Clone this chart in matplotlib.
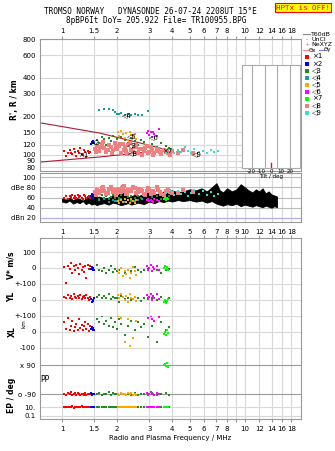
import matplotlib.pyplot as plt
from matplotlib.ticker import FixedLocator, NullLocator, FixedFormatter

# ---- data ----
freq_ticks = [1, 1.5, 2, 3, 4, 5, 6, 7, 8, 9, 10, 12, 14, 16, 18]
freq_labels = ['1', '1.5', '2', '3', '4', '5', '6', '7', '8', '', '10', '12', '14', '16', '18']
freq_labels_mid = ['1', '1.5', '2', '3', '4', '5', '6', '7', '8', '9', '10', '12', '14', '16', '18']
range_ticks = [80, 90, 100, 120, 150, 200, 300, 400, 600, 800]

# echo 1 (red)
red_f = [1.02, 1.05, 1.08, 1.10, 1.12, 1.14, 1.16, 1.18, 1.20, 1.22, 1.24, 1.26, 1.28, 1.30, 1.32, 1.34, 1.36, 1.38, 1.40, 1.42]
red_R = [107, 98, 103, 110, 104, 101, 112, 106, 99, 108, 104, 113, 102, 100, 110, 105, 97, 108, 103, 106]
red_dbe = [60, 62, 58, 63, 61, 64, 60, 62, 59, 65, 61, 63, 60, 58, 64, 62, 59, 61, 63, 60]
red_v = [5, -95, 15, -5, 30, -30, 10, -10, 20, 0, -40, 25, -15, 5, -25, 10, -60, 20, -5, 15]
red_yl = [20, 10, 30, 15, 25, 5, 35, 20, 10, 25, 15, 30, 5, 20, 25, 10, 30, 15, 0, 20]
red_xl = [60, 20, 90, 10, 40, 70, 5, 30, 50, 15, 80, 25, 45, 10, 35, 60, 20, 50, 5, 40]
red_pp = [-88, -95, -85, -92, -80, -98, -90, -86, -94, -83, -91, -97, -87, -89, -93, -84, -96, -90, -88, -92]
red_ep = [8, 12, 9, 11, 10, 14, 7, 10, 12, 9, 11, 8, 13, 10, 9, 12, 10, 11, 8, 10]

# echo 2 (blue)
blue_f = [1.44, 1.46, 1.47, 1.48, 1.49]
blue_R = [122, 126, 124, 128, 125]
blue_dbe = [62, 66, 64, 60, 63]
blue_v = [-5, 5, -15, 0, -10]
blue_yl = [5, -10, 0, -5, 10]
blue_xl = [20, 30, 10, 25, 15]
blue_pp = [-85, -95, -90, -88, -92]
blue_ep = [9, 11, 10, 12, 8]

# echo 3 (green)
green_f = [1.55, 1.6, 1.65, 1.7, 1.75, 1.8, 1.85, 1.9, 1.95, 2.0, 2.05, 2.1, 2.2, 2.3, 2.4, 2.5, 2.6, 2.7, 2.8, 2.95, 3.1, 3.3, 3.5, 3.7, 3.85]
green_R = [130, 125, 138, 132, 120, 135, 128, 140, 126, 133, 122, 137, 130, 124, 135, 128, 120, 131, 126, 118, 122, 115, 125, 118, 113]
green_dbe = [62, 58, 64, 60, 63, 57, 61, 65, 59, 62, 60, 64, 58, 61, 63, 59, 62, 60, 64, 58, 61, 63, 57, 60, 62]
green_v = [20, -10, -20, 0, -30, -15, 10, -25, -5, -20, -15, 0, -30, -10, -20, 5, -15, -25, -10, -5, -20, -15, -30, -10, -5]
green_yl = [20, 30, 10, 25, 15, 35, 5, 20, 10, 15, -10, 25, 5, 15, 0, 20, 10, -5, 15, 5, 10, 0, 20, -5, 10]
green_xl = [80, 60, 100, 50, 70, 40, 90, 30, 60, 20, 80, 50, -20, 40, 70, 10, 60, 30, 50, -30, 40, -60, 60, 10, 30]
green_pp = [-90, -84, -95, -88, -92, -80, -97, -86, -91, -89, -94, -83, -90, -87, -93, -85, -96, -90, -88, -92, -86, -94, -90, -84, -98]
green_ep = [10, 9, 11, 8, 12, 10, 9, 11, 10, 8, 12, 10, 9, 11, 10, 8, 12, 9, 10, 11, 9, 10, 12, 8, 10]

# echo 4 (teal)
teal_f = [1.6, 1.7, 1.8, 1.9, 1.95, 2.0, 2.05, 2.1, 2.2, 2.3, 2.4, 2.5, 2.6, 2.75, 2.95]
teal_R = [225, 228, 230, 222, 215, 210, 208, 212, 206, 207, 205, 208, 206, 205, 220]
teal_dbe = [55, 57, 52, 56, 54, 53, 55, 57, 52, 56, 54, 53, 55, 57, 56]

# echo 5 (orange)
orange_f = [2.02, 2.06, 2.1, 2.15, 2.2, 2.25, 2.3, 2.35, 2.4, 2.45, 2.5, 2.55]
orange_R = [150, 140, 155, 145, 135, 148, 130, 152, 142, 138, 146, 132]
orange_dbe = [54, 50, 56, 52, 58, 51, 55, 49, 57, 53, 50, 55]
orange_v = [-10, -30, 0, -50, -20, -40, -10, -60, -30, 5, -20, -45]
orange_yl = [30, 10, 40, 20, 0, 25, -10, 35, 15, 5, 20, -5]
orange_xl = [100, 130, 90, 150, -60, 120, 80, -90, 110, -40, 140, 70]
orange_pp = [-88, -94, -84, -92, -90, -96, -86, -90, -82, -93, -89, -95]
orange_ep = [10, 12, 9, 11, 10, 8, 12, 10, 9, 11, 10, 12]

# echo 6 (magenta)
mag_f = [2.9, 2.95, 3.0, 3.05, 3.1, 3.15, 3.2, 3.3, 3.4]
mag_R = [148, 155, 142, 150, 138, 152, 145, 140, 158]
mag_dbe = [55, 58, 53, 56, 54, 52, 57, 55, 53]
mag_v = [10, -10, 0, 20, -20, 5, -5, 15, -15]
mag_yl = [30, 10, 20, 40, 0, 25, 15, 35, 5]
mag_xl = [110, 90, 130, 100, 80, 120, 70, 105, 95]
mag_pp = [-85, -95, -90, -80, -92, -88, -96, -84, -90]
mag_ep = [10, 11, 9, 12, 10, 8, 11, 10, 9]

# echo 7 (lime)
lime_f = [3.6, 3.65, 3.7, 3.75, 3.8]
lime_R = [108, 104, 110, 106, 112]
lime_dbe = [58, 60, 56, 59, 57]
lime_v = [0, 10, -5, 5, -10]
lime_yl = [-10, 0, -20, -5, 5]
lime_xl = [-10, 0, -20, 10, -5]
lime_pp = [90, 95, 85, 100, 80]
lime_ep = [10, 9, 11, 10, 12]

# echo 8 (salmon)
salmon_f = [1.52, 1.56, 1.6, 1.65, 1.7, 1.75, 1.8, 1.85, 1.9, 1.95, 2.0, 2.05, 2.1, 2.15, 2.2, 2.25, 2.3, 2.4, 2.5, 2.6, 2.7, 2.8, 2.9, 3.0,
            3.1, 3.2, 3.35, 3.5, 3.7, 3.9, 4.3, 4.6, 5.2,
            1.54, 1.62, 1.68, 1.78, 1.88, 1.98, 2.08, 2.18, 2.28, 2.35, 2.45, 2.55, 2.65, 2.75, 2.85, 2.95, 3.05, 3.15, 3.3, 3.45, 3.6, 3.8, 4.0]
salmon_R = [112, 118, 108, 122, 114, 106, 120, 116, 110, 124, 112, 118, 104, 121, 115, 108, 119, 110, 116, 104, 112, 108, 118, 106,
            110, 104, 108, 102, 106, 100, 104, 110, 104,
            105, 115, 126, 110, 104, 116, 122, 110, 102, 124, 106, 120, 112, 100, 114, 104, 116, 100, 112, 106, 110, 103, 108]
salmon_dbe = [70, 75, 68, 78, 72, 66, 76, 80, 70, 74, 68, 77, 71, 79, 73, 67, 75, 72, 78, 70, 74, 66, 72, 76,
              70, 68, 74, 66, 72, 70, 68, 74, 70,
              64, 72, 80, 68, 76, 64, 70, 82, 66, 74, 80, 68, 76, 72, 64, 78, 66, 72, 80, 70, 64, 76, 68]

# echo 9 (turquoise)
turq_f = [3.7, 3.9, 4.1, 4.3, 4.5, 4.7, 4.9, 5.1, 5.3, 5.6, 5.9, 6.2, 6.5, 6.8, 7.1]
turq_R = [106, 112, 104, 110, 106, 115, 108, 103, 112, 106, 108, 104, 110, 105, 107]
turq_dbe = [68, 74, 64, 72, 66, 70, 62, 68, 74, 66, 72, 64, 70, 62, 66]

# echo label positions
label_text = ['×1', '×2', '◁3', '◁4', '◁5', '◁6', '×7', '◁8', '◁9']
label_f = [1.30, 1.50, 2.40, 2.27, 2.40, 3.20, 3.75, 2.45, 5.5]
label_R = [100, 125, 119, 205, 139, 138, 107, 103, 102]

# range limit lines
limit_f = [0.76, 1.61, 2.67, 3.8]
limit_upper = [178, 148, 124, 109]
limit_lower = [88, 96.5, 104, 109]

# noise band (dBe)
noise_f = [1.0, 1.05, 1.1, 1.15, 1.2, 1.25, 1.3, 1.35, 1.4, 1.45, 1.5, 1.55, 1.6, 1.7, 1.8, 1.9, 2.0, 2.1, 2.2, 2.3, 2.4, 2.5, 2.6, 2.8, 3.0, 3.2,
           3.4, 3.6, 3.8, 4.0, 4.3, 4.6, 5.0, 5.4, 5.8, 6.2, 6.6, 7.0, 7.3, 7.6, 8.0, 8.5, 9.0, 9.5, 10.0, 10.5, 11.0, 11.5, 12.0, 12.5, 13.0, 13.5, 14.0, 14.5, 15.0]
noise_lo = [52, 50, 54, 48, 51, 49, 53, 47, 50, 46, 48, 45, 47, 49, 46, 50, 48, 45, 47, 49, 46, 48, 50, 47, 52, 49, 53, 51, 54, 52, 55, 53, 55, 52, 54, 50, 53, 48,
            46, 44, 47, 45, 48, 43, 46, 44, 42, 45, 43, 41, 44, 42, 40, 43, 41]
noise_hi = [58, 56, 60, 55, 59, 57, 54, 58, 60, 62, 74, 60, 62, 58, 60, 64, 62, 84, 66, 60, 63, 65, 62, 68, 70, 66, 68, 72, 70, 74, 70, 72, 76, 74, 78, 72, 80, 88,
            74, 70, 78, 72, 76, 86, 80, 74, 70, 76, 72, 78, 68, 72, 66, 64, 62]

tilt_x = [0]

echoes = [
    ('×1', 'red', red_f, red_R, red_dbe),
    ('×2', 'blue', blue_f, blue_R, blue_dbe),
    ('◁3', '#228b22', green_f, green_R, green_dbe),
    ('◁4', '#10a0a0', teal_f, teal_R, teal_dbe),
    ('◁5', 'orange', orange_f, orange_R, orange_dbe),
    ('◁6', 'magenta', mag_f, mag_R, mag_dbe),
    ('×7', '#00ff00', lime_f, lime_R, lime_dbe),
    ('◁8', '#f08080', salmon_f, salmon_R, salmon_dbe),
    ('◁9', '#30e0d0', turq_f, turq_R, turq_dbe),
]
motion = [
    ('red', red_f, red_v, red_yl, red_xl, red_pp, red_ep),
    ('blue', blue_f, blue_v, blue_yl, blue_xl, blue_pp, blue_ep),
    ('#228b22', green_f, green_v, green_yl, green_xl, green_pp, green_ep),
    ('orange', orange_f, orange_v, orange_yl, orange_xl, orange_pp, orange_ep),
    ('magenta', mag_f, mag_v, mag_yl, mag_xl, mag_pp, mag_ep),
    ('#00ff00', lime_f, lime_v, lime_yl, lime_xl, lime_pp, lime_ep),
]

# ---- figure ----
W, H = 335, 451
fig = plt.figure(figsize=(W / 100, H / 100), dpi=100)
plt.rcParams['font.family'] = 'DejaVu Sans'
FS = 5
GRID = '#d8d8d8'
EDGE = '#999999'


def pix_axes(x0, y0, x1, y1):
    return fig.add_axes([x0 / W, 1 - y1 / H, (x1 - x0) / W, (y1 - y0) / H])


def freq_axis(ax, labels=None):
    ax.set_xscale('log')
    ax.set_xlim(0.758, 20.3)
    ax.xaxis.set_major_locator(FixedLocator(freq_ticks))
    ax.xaxis.set_minor_locator(NullLocator())
    ax.xaxis.set_major_formatter(FixedFormatter(labels if labels else [''] * len(freq_ticks)))
    ax.grid(axis='x', color=GRID, lw=0.8)
    ax.tick_params(axis='x', length=2, color=EDGE, labelsize=FS, pad=1.5)
    ax.tick_params(axis='y', length=0, labelsize=FS, pad=3)
    for s in ax.spines.values():
        s.set_color(EDGE)
    ax.set_axisbelow(True)


# top panel: virtual range
ax = pix_axes(40, 39, 301, 171)
freq_axis(ax, freq_labels)
ax.xaxis.tick_top()
ax.set_yscale('log')
ax.set_ylim(75, 800)
ax.yaxis.set_major_locator(FixedLocator(range_ticks))
ax.yaxis.set_minor_locator(NullLocator())
ax.yaxis.set_major_formatter(FixedFormatter([str(v) for v in range_ticks]))
ax.grid(axis='y', color=GRID, lw=0.8)
ax.plot(limit_f, limit_upper, color='#b01838', lw=0.8)
ax.plot(limit_f, limit_lower, color='#b01838', lw=0.8)
for name, col, f, r, d in echoes:
    ms = 2.6 if col == '#f08080' else 1.8
    ax.plot(f, r, 's', color=col, ms=ms, mew=0)
for t, f, r in zip(label_text, label_f, label_R):
    ax.text(f, r, t, fontsize=5, ha='center', va='center', color='black')
fig.text(14 / W, 1 - 100 / H, "R', R / km", rotation=90, fontsize=FS + 0.5, ha='center', va='center', weight='bold')

# dBe panel
axd = pix_axes(40, 173, 301, 222)
freq_axis(axd, freq_labels_mid)
axd.set_ylim(12, 108)
axd.set_yticks([20, 40, 60, 80, 100])
axd.set_yticklabels(['dBn 20', '40', '60', 'dBe 80', '100'])
axd.grid(axis='y', color='#bbbbbb', lw=0.8)
axd.axhline(20, color='#b0b0f0', lw=0.8)
axd.tick_params(axis='x', length=0, pad=5)
axd.fill_between(noise_f, noise_lo, noise_hi, color='black', lw=0.6, edgecolor='black')
for name, col, f, r, d in echoes:
    ms = 2.8 if col == '#f08080' else 2.0
    axd.plot(f, d, 's', color=col, ms=ms, mew=0)

# tilt inset (drawn above the dBe panel so its label shows)
axt = pix_axes(242, 65, 300, 168)
axt.set_zorder(10)
axt.set_xlim(-30, 30)
axt.set_ylim(0, 1)
axt.set_yticks([])
axt.set_xticks([-20, -10, 0, 10, 20])
axt.set_xticklabels(['-20', '-10', '0', '10', '20'])
axt.tick_params(axis='x', length=0, labelsize=4, pad=1)
axt.set_xlabel('Tilt / deg', fontsize=4, labelpad=0)
for v in [-20, -6.7, 6.7, 20]:
    axt.axvline(v, color='#aaaaaa', lw=0.8)
for s in axt.spines.values():
    s.set_color('#aaaaaa')
axt.plot([tilt_x[0], tilt_x[0]], [0, 0.05], color='red', lw=1)

# legend on the right
LFS = 4.5
leg_x = 303 / W
fig.add_artist(plt.Line2D([leg_x, leg_x + 0.02], [1 - 34 / H] * 2, color='#888888', lw=0.8))
fig.text(leg_x + 0.025, 1 - 34 / H, 'T60dB', fontsize=LFS, va='center')
fig.text(leg_x + 0.008, 1 - 39.5 / H, '·', fontsize=LFS, va='center')
fig.text(leg_x + 0.025, 1 - 39.5 / H, 'UnCl', fontsize=LFS, va='center')
fig.text(leg_x + 0.005, 1 - 45 / H, '+', fontsize=LFS, va='center', color='#e07090')
fig.text(leg_x + 0.025, 1 - 45 / H, 'NeXYZ', fontsize=LFS, va='center')
fig.add_artist(plt.Line2D([leg_x, leg_x + 0.015], [1 - 50 / H] * 2, color='#f08080', lw=0.8))
fig.text(leg_x + 0.016, 1 - 50 / H, 'Θx', fontsize=LFS - 0.5, va='center')
fig.add_artist(plt.Line2D([leg_x + 0.048, leg_x + 0.062], [1 - 50 / H] * 2, color='#8080f0', lw=0.8))
fig.text(leg_x + 0.063, 1 - 50 / H, 'Θy', fontsize=LFS - 0.5, va='center')
for i, (name, col, f, r, d) in enumerate(echoes):
    y = 1 - (56.5 + 7 * i) / H
    fig.add_artist(plt.Line2D([leg_x + 0.013], [y], marker='s', color=col, ms=2.2, mew=0))
    fig.text(leg_x + 0.027, y, name, fontsize=LFS + 0.5, va='center')

# lower panel: stacked bands sharing the frequency axis
bands = [
    ('v', 238, 284, (-100, 187.5), [0, 100], ['0', '100']),
    ('yl', 284, 316, (-100, 100), [0, 100], ['0', '+-100']),
    ('xl', 316, 356, (-150, 100), [-100, 0, 100], ['-100', '0', '+-100']),
    ('pp', 356, 400, (-127, 146), [-90, 90], ['o -90', 'x 90']),
    ('ep', 400, 419, (0.0215, 360), [0.1, 10], ['0.1', '10.']),
]
band_axes = {}
for i, (key, y0, y1, lim, ticks, labs) in enumerate(bands):
    b = pix_axes(40, y0, 301, y1)
    last = i == len(bands) - 1
    freq_axis(b, freq_labels if last else None)
    if key == 'ep':
        b.set_yscale('log')
        b.yaxis.set_minor_locator(NullLocator())
    b.set_ylim(*lim)
    b.set_yticks(ticks)
    b.set_yticklabels(labs)
    gcol = '#999999' if key == 'pp' else GRID
    b.grid(axis='y', color=gcol, lw=0.8)
    b.spines['top'].set_visible(i == 0)
    b.spines['bottom'].set_visible(last)
    if i == 0:
        b.tick_params(axis='x', top=True, bottom=False)
    elif not last:
        b.tick_params(axis='x', length=0)
    else:
        b.tick_params(axis='x', pad=3)
    b.patch.set_alpha(0)
    band_axes[key] = b

for col, f, v, yl, xl, pp, ep in motion:
    for key, vals in zip(['v', 'yl', 'xl', 'pp', 'ep'], [v, yl, xl, pp, ep]):
        band_axes[key].plot(f, vals, 's', color=col, ms=1.8, mew=0)

fig.text(11 / W, 1 - 265 / H, 'V* m/s', rotation=90, fontsize=FS + 0.5, ha='center', va='center', weight='bold')
fig.text(12 / W, 1 - 297 / H, 'YL', rotation=90, fontsize=FS + 0.5, ha='center', va='center', weight='bold')
fig.text(12 / W, 1 - 332 / H, 'XL', rotation=90, fontsize=FS + 0.5, ha='center', va='center', weight='bold')
fig.text(24 / W, 1 - 324 / H, 'km', rotation=90, fontsize=FS - 1, ha='center', va='center')
fig.text(45 / W, 1 - 379 / H, 'PP', fontsize=FS + 0.5, ha='center', va='center')
fig.text(12 / W, 1 - 395 / H, 'EP / deg', rotation=90, fontsize=FS + 0.5, ha='center', va='center', weight='bold')
fig.text(170 / W, 1 - 438 / H, 'Radio and Plasma Frequency / MHz', fontsize=FS, ha='center', va='center')

# header
fig.text(150 / W, 1 - 12 / H, 'TROMSO NORWAY   DYNASONDE 26-07-24 2208UT 15°E', family='DejaVu Sans Mono',
         fontsize=5.6, ha='center', va='center')
fig.text(156 / W, 1 - 20.5 / H, '8pBP6It DoY= 205.922 File= TR100955.BPG', family='DejaVu Sans Mono',
         fontsize=5.6, ha='center', va='center')
fig.text(303 / W, 1 - 7.5 / H, 'HPTx is OFF!', family='DejaVu Sans Mono', fontsize=5.4, color='red',
         ha='center', va='center', bbox=dict(boxstyle='square,pad=0.15', fc='yellow', ec='red', lw=0.8))

fig.savefig('out.png', dpi=100)
